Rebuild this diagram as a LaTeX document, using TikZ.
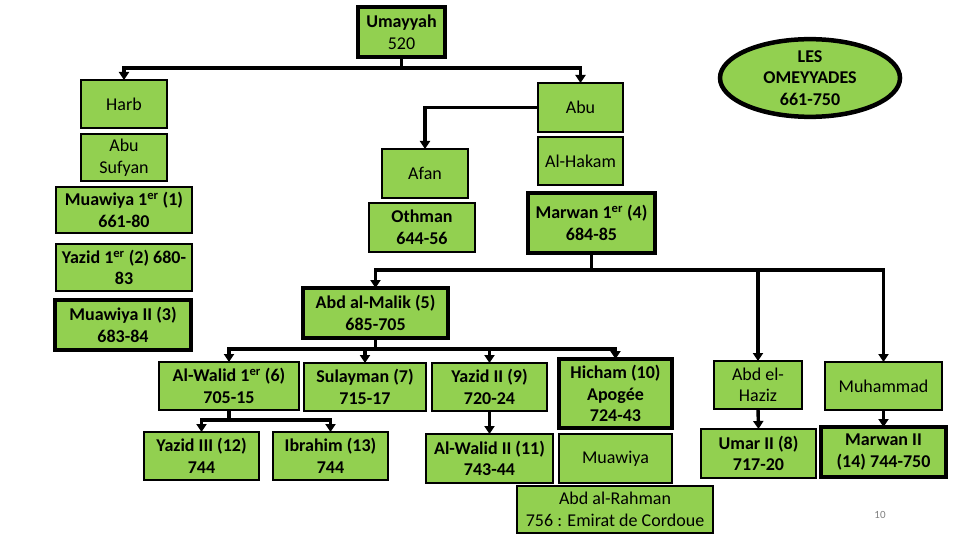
\documentclass[tikz,border=0pt]{standalone}
\usepackage{fontspec}
\setmainfont{Carlito}
\usepackage{xcolor}
\usetikzlibrary{shapes.geometric,arrows.meta}
\definecolor{leafgreen}{RGB}{146,208,80}

\begin{document}
\begin{tikzpicture}[x=1pt,y=-1pt]
  \tikzstyle{Box}=[draw,fill=leafgreen,line width=2.2pt,inner sep=0pt,outer sep=0pt,align=center,font=\fontsize{18}{21.5}\selectfont]
  \tikzstyle{Strong}=[font=\fontsize{18}{21.5}\selectfont\bfseries]
  \tikzstyle{Ruler}=[Box,line width=4.5pt]
  \tikzstyle{Link}=[line width=3.4pt,-{Triangle[width=10pt,length=8pt]}]
  \useasboundingbox (0,0) rectangle (960,540);
  \node[Ruler,minimum width=87,minimum height=50] (umayyah) at (401.5,32) {{\bfseries Umayyah}\\520};
  \node[Box,minimum width=86,minimum height=48] (harb) at (124,104) {Harb};
  \node[Box,minimum width=86,minimum height=47] (sufyan) at (124,157.5) {Abu\\Sufyan};
  \node[Box,Strong,minimum width=136,minimum height=46] (muawiya1) at (124,210) {Muawiya 1\textsuperscript{er} (1)\\661-80};
  \node[Box,Strong,minimum width=136,minimum height=47] (yazid1) at (124,267.5) {Yazid 1\textsuperscript{er} (2) 680-\\83};
  \node[Ruler,Strong,minimum width=136,minimum height=50] (muawiya2) at (123,325) {Muawiya II (3)\\683-84};
  \node[Box,minimum width=85,minimum height=49] (abu) at (580.5,107.5) {Abu};
  \node[Box,minimum width=85,minimum height=48] (hakam) at (580.5,161) {Al-Hakam};
  \node[Box,minimum width=86,minimum height=49] (afan) at (425,173.5) {Afan};
  \node[Box,Strong,minimum width=106,minimum height=49] (othman) at (422,227.5) {Othman\\644-56};
  \node[Ruler,Strong,minimum width=127,minimum height=60] (marwan1) at (591.5,223) {Marwan 1\textsuperscript{er} (4)\\684-85};
  \node[Ruler,Strong,minimum width=145,minimum height=50] (abdmalik) at (375.5,313) {Abd al-Malik (5)\\685-705};
  \node[Box,Strong,minimum width=140,minimum height=48] (walid1) at (229,386) {Al-Walid 1\textsuperscript{er} (6)\\705-15};
  \node[Box,Strong,minimum width=122,minimum height=48] (sulayman) at (365,387) {Sulayman (7)\\715-17};
  \node[Box,Strong,minimum width=115,minimum height=48] (yazid2) at (489.5,387) {Yazid II (9)\\720-24};
  \node[Ruler,Strong,minimum width=113,minimum height=69] (hicham) at (615.5,393.5) {Hicham (10)\\Apogée\\724-43};
  \node[Box,Strong,minimum width=115,minimum height=48] (yazid3) at (201.5,456) {Yazid III (12)\\744};
  \node[Box,Strong,minimum width=115,minimum height=48] (ibrahim) at (330.5,456) {Ibrahim (13)\\744};
  \node[Box,Strong,minimum width=127,minimum height=49] (walid2) at (489.5,458.5) {Al-Walid II (11)\\743-44};
  \node[Box,minimum width=113,minimum height=49] (muawiya) at (615.5,458.5) {Muawiya};
  \node[Box,minimum width=196,minimum height=47] (rahman) at (615,509.5) {Abd al-Rahman\\756 : Emirat de Cordoue};
  \node[Box,minimum width=88,minimum height=48] (haziz) at (758,385) {Abd el-\\Haziz};
  \node[Box,Strong,minimum width=115,minimum height=49] (umar) at (758.5,453.5) {Umar II (8)\\717-20};
  \node[Box,minimum width=117,minimum height=48] (muhammad) at (883.5,386) {Muhammad};
  \node[Ruler,Strong,minimum width=125,minimum height=50] (marwan2) at (883.5,452) {Marwan II\\(14) 744-750};
  \node[Ruler,Strong,ellipse,minimum width=180,minimum height=70] (title) at (810,78) {LES\\OMEYYADES\\661-750};
  \node[text=gray,font=\fontsize{11}{13}\selectfont] (page) at (880,515) {10};
  \draw[Link] (umayyah.south) -- ++(0,11) -| (harb.north);
  \draw[Link] (umayyah.south) -- ++(0,11) -| (abu.north);
  \draw[Link] (abu.west) -| (afan.north);
  \draw[Link] (marwan1.south) -- ++(0,17) -| (abdmalik.north);
  \draw[Link] (marwan1.south) -- ++(0,17) -| (haziz.north);
  \draw[Link] (marwan1.south) -- ++(0,17) -| (muhammad.north);
  \draw[Link] (abdmalik.south) -- ++(0,11) -| (walid1.north);
  \draw[Link] (abdmalik.south) -- ++(0,11) -| (sulayman.north);
  \draw[Link] (abdmalik.south) -- ++(0,11) -| (yazid2.north);
  \draw[Link] (abdmalik.south) -- ++(0,11) -| (hicham.north);
  \draw[Link] (walid1.south) -- ++(0,10) -| (yazid3.north);
  \draw[Link] (walid1.south) -- ++(0,10) -| (ibrahim.north);
  \draw[Link] (yazid2.south) -- (walid2.north);
  \draw[Link] (haziz.south) -- (umar.north);
  \draw[Link] (muhammad.south) -- (marwan2.north);
\end{tikzpicture}
\end{document}
